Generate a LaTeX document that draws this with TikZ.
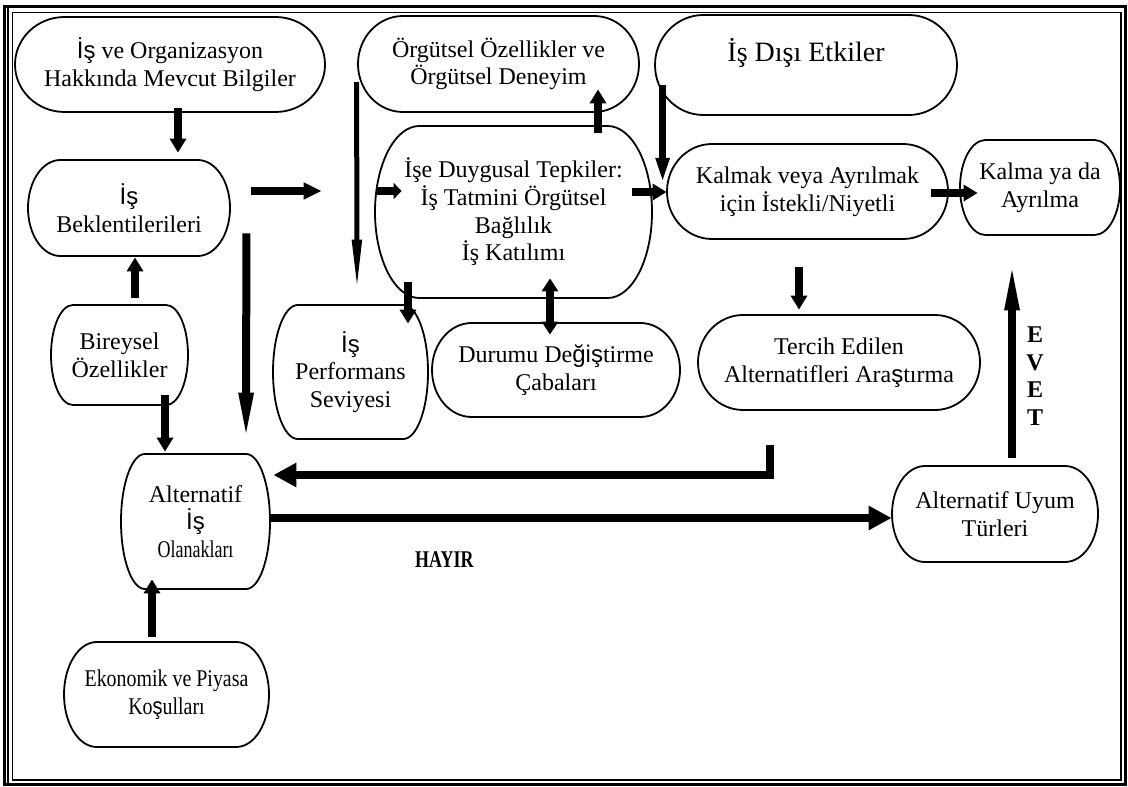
\documentclass[tikz,border=0pt]{standalone}
\usepackage{fontspec}
\usepackage{graphicx}
\setmainfont{Liberation Serif}
\newfontfamily\arialfont{Liberation Sans}
\newcommand\arialtxt[1]{{\arialfont #1}}
\usetikzlibrary{arrows.meta}

\tikzset{
  termline/.style={line width=0.9pt},
  txt/.style={align=center, inner sep=0pt, font=\fontsize{12}{13.8}\selectfont},
  lbl/.style={align=center, inner sep=0pt, font=\bfseries\fontsize{12}{13.75}\selectfont},
  blk/.style={line width=4pt, -{Triangle[length=7pt,width=8pt]}},
  longtip/.style={-{Triangle[length=26pt,width=6.5pt]}},
  bigtip/.style={-{Triangle[length=11.5pt,width=11.5pt]}},
}

% terminator box: name, x1, y1, x2, y2, text
\newcommand\termnode[6]{%
  \pgfmathsetmacro\termrx{0.16*(#4-#2)}%
  \pgfmathsetmacro\termry{0.5*(#5-#3)}%
  \draw[termline] ({#2+\termrx},#3) -- ({#4-\termrx},#3)
    arc[start angle=-90, end angle=90, x radius=\termrx, y radius=\termry]
    -- ({#2+\termrx},#5)
    arc[start angle=90, end angle=270, x radius=\termrx, y radius=\termry] -- cycle;
  \node[txt, minimum width={(#4-#2)*0.5pt}, minimum height={(#5-#3)*0.5pt}] (#1)
    at ({(#2+#4)/2},{(#3+#5)/2}) {#6};
}

\begin{document}
\begin{tikzpicture}[x=0.5pt,y=-0.5pt]
  \useasboundingbox (0,0) rectangle (1128,786);

	% Cerceve
	\draw[line width=1.5pt] (4,7) rectangle (1125,784);
	\draw[line width=0.6pt] (8,7) -- (8,784);
	\draw[line width=0.7pt] (12.5,12.5) rectangle (1121,780);

	% Kutular
	\termnode{org}{15}{17}{325}{112}{\arialtxt{İş} ve Organizasyon\\Hakkında Mevcut Bilgiler}
	\termnode{orgut}{358}{16}{639}{112}{Örgütsel Özellikler ve\\Örgütsel Deneyim}
	\termnode{disi}{655}{15}{957}{115}{\fontsize{14}{16}\selectfont\raisebox{0pt}[\height][\dimexpr\depth+12pt\relax]{İş Dışı Etkiler}}
	\termnode{bek}{28}{160}{230}{256}{\arialtxt{İş}\\Beklentilerileri}
	\termnode{duygu}{375}{126}{652}{298}{İşe Duygusal Tepkiler:\\İş Tatmini Örgütsel\\Bağlılık\\İş Katılımı}
	\termnode{kalmak}{667}{144}{948}{239}{Kalmak veya Ayrılmak\\için İstekli/Niyetli}
	\termnode{kalma}{960}{140}{1120}{235}{Kalma ya da\\Ayrılma}
	\termnode{birey}{51}{305}{188}{405}{Bireysel\\Özellikler}
	\termnode{perf}{273}{305}{428}{439}{\arialtxt{İş}\\Performans\\Seviyesi}
	\termnode{durum}{432}{323}{680}{417}{Durumu De\arialtxt{ğiş}tirme\\Çabaları}
	\termnode{tercih}{698}{315}{980}{410}{Tercih Edilen\\Alternatifleri Ara\arialtxt{ş}tırma}
	\termnode{alt}{121}{454}{270}{589}{Alternatif\\\arialtxt{İş}\\\scalebox{0.75}[1]{Olanakları}}
	\termnode{ekon}{64}{642}{269}{747}{\scalebox{0.83}[1]{Ekonomik ve Piyasa}\\\scalebox{0.83}[1]{Ko\arialtxt{ş}ulları}}
	\termnode{uyum}{892}{466}{1098}{562}{Alternatif Uyum\\Türleri}

	% Oklar
	\draw[blk] ([xshift=4pt,yshift=2pt]org.south) -- ([xshift=24.5pt,yshift=3.5pt]bek.north);
	\draw[blk,-{Triangle[length=9pt,width=8pt]}] ([xshift=10.5pt,yshift=8.5pt]bek.east) -- ([xshift=-26.5pt,yshift=10.5pt]duygu.west);
	\draw[blk,-{Triangle[length=4pt,width=8pt]}] ([xshift=1pt,yshift=10.5pt]duygu.west) -- ([xshift=13.5pt,yshift=10.5pt]duygu.west);
	\draw[blk,longtip] ([xshift=8pt,yshift=11.5pt]bek.south east) -- ([xshift=25.25pt,yshift=4.5pt]alt.north);
	\draw[blk] ([xshift=7.75pt,yshift=3.5pt]birey.north) -- ([xshift=3pt,yshift=-0.5pt]bek.south);
	\draw[blk] ([xshift=22.75pt,yshift=5pt]birey.south) -- ([xshift=-15.25pt,yshift=1pt]alt.north);
	\draw[blk] ([xshift=-7.25pt,yshift=2.5pt]ekon.north) -- ([xshift=-21.75pt,yshift=5pt]alt.south);
	\draw[line width=2.5pt,-{Triangle[length=26.5pt,width=4.5pt]}] ([xshift=-0.5pt,yshift=-9pt]orgut.west) -- ([xshift=3.25pt,yshift=6pt]perf.north);
	\draw[blk] ([xshift=-52.75pt,yshift=8pt]duygu.south) -- ([xshift=28.75pt,yshift=-9.5pt]perf.north);
	\draw[blk,{Triangle[length=6.5pt,width=8pt]}-{Triangle[length=6.5pt,width=8pt]}] ([xshift=18.25pt,yshift=10pt]duygu.south) -- ([xshift=-3pt,yshift=-6pt]durum.north);
	\draw[blk] ([xshift=42.25pt,yshift=-3.5pt]duygu.north) -- ([xshift=49.75pt,yshift=11.5pt]orgut.south);
	\draw[line width=3.5pt,-{Triangle[length=13.5pt,width=6pt]}] ([xshift=4pt,yshift=-10pt]disi.west) -- ([xshift=-2pt,yshift=3.25pt]kalmak.west);
	\draw[blk] ([xshift=-10pt,yshift=10pt]duygu.east) -- ([yshift=-0.25pt]kalmak.west);
	\draw[blk] ([xshift=-8.5pt,yshift=-0.75pt]kalmak.east) -- ([xshift=9pt,yshift=-2.75pt]kalma.west);
	\draw[blk] ([xshift=-4.25pt,yshift=-14pt]kalmak.south) -- ([xshift=-20pt,yshift=2.5pt]tercih.north);
	\draw[blk,longtip] ([xshift=8.5pt,yshift=4pt]uyum.north) -- ([xshift=-14pt,yshift=-11.5pt]kalma.south)
	  node[lbl, pos=0.41, xshift=11.5pt] (evet) {E\\V\\E\\T};
	\coordinate (tstub) at ([xshift=-34.5pt,yshift=-17.5pt]tercih.south);
	\draw[blk,bigtip] (tstub) |- ([xshift=1.5pt,yshift=23.25pt]alt.east);
	\draw[blk,bigtip] ([yshift=1.75pt]alt.east) -- ([yshift=-2pt]uyum.west)
	  node[lbl, pos=0.28, yshift=-21pt] (hayir) {\scalebox{0.75}[1]{HAYIR}};
\end{tikzpicture}
\end{document}
